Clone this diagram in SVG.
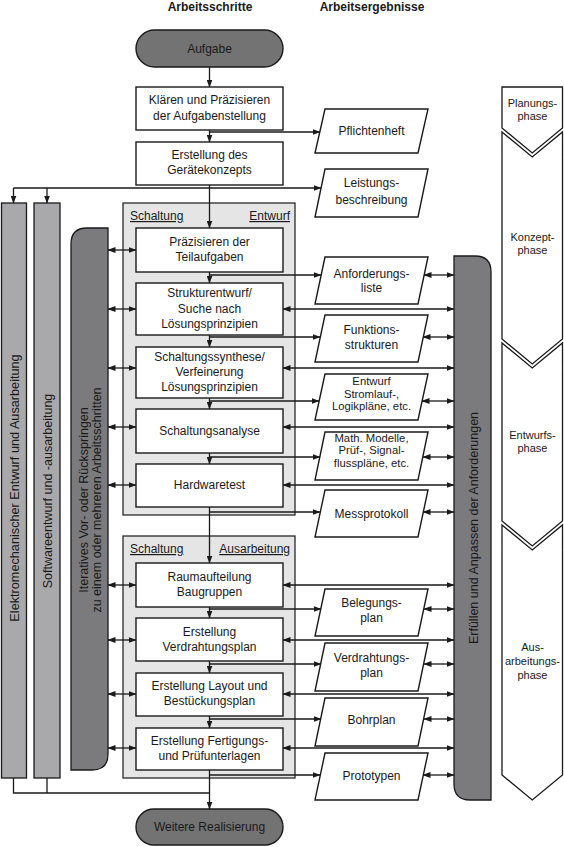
<svg xmlns="http://www.w3.org/2000/svg" width="564" height="847" viewBox="0 0 564 847">
<defs>
<marker id="ah" markerUnits="userSpaceOnUse" markerWidth="8" markerHeight="6" refX="7.5" refY="3" orient="auto-start-reverse"><path d="M0,0 L8,3 L0,6 Z" fill="#1a1a1a"/></marker>
<style>
text{font-family:"Liberation Sans",Arial,sans-serif;font-size:12px;fill:#1a1a1a;text-anchor:middle}
.t{font-weight:bold}
.box{fill:#fff;stroke:#1a1a1a;stroke-width:1.4}
.pill{fill:#737373;stroke:#1a1a1a;stroke-width:1.4}
.grp{fill:#e5e5e5;stroke:#2a2a2a;stroke-width:1.3}
.lbar{fill:#a9a9ab;stroke:#1a1a1a;stroke-width:1.3}
.dbar{fill:#7b7b7d;stroke:#1a1a1a;stroke-width:1.3}
.para{fill:#fff;stroke:#1a1a1a;stroke-width:1.4}
.chev{fill:#fff;stroke:#1a1a1a;stroke-width:1.3}
.ph{font-size:11px}
.sm{font-size:11.3px}
.c{fill:none;stroke:#1a1a1a;stroke-width:1.3}
.a{marker-end:url(#ah)}
.d{marker-start:url(#ah);marker-end:url(#ah)}
.u{text-decoration:underline;text-anchor:start}
</style>
</defs>

<text class="t" x="210" y="11">Arbeitsschritte</text>
<text class="t" x="372" y="11">Arbeitsergebnisse</text>

<!-- containers -->
<g id="grp-entwurf">
<rect class="grp" x="123" y="203" width="172" height="312"/>
<text class="u" x="130" y="220">Schaltung</text>
<text x="290" y="220" style="text-anchor:end;text-decoration:underline">Entwurf</text>
</g>
<g id="grp-ausarbeitung">
<rect class="grp" x="123" y="536" width="172" height="242"/>
<text class="u" x="130" y="553">Schaltung</text>
<text x="290" y="553" style="text-anchor:end;text-decoration:underline">Ausarbeitung</text>
</g>

<!-- side bars -->
<g id="bar-elektro">
<rect class="lbar" x="1.5" y="203" width="25" height="575"/>
<text transform="translate(18.5,488) rotate(-90)" style="font-size:12.7px">Elektromechanischer Entwurf und Ausarbeitung</text>
</g>
<g id="bar-software">
<rect class="lbar" x="34" y="203" width="26" height="575"/>
<text transform="translate(51.5,491) rotate(-90)" style="font-size:12.5px">Softwareentwurf und -ausarbeitung</text>
</g>
<g id="bar-iterativ">
<path class="dbar" d="M71,770 V244 Q71,228 87,228 H108 V754 Q108,770 92,770 Z"/>
<text transform="translate(87.5,500) rotate(-90)" style="font-size:12.5px">Iteratives Vor- oder Rückspringen</text>
<text transform="translate(100.5,500) rotate(-90)" style="font-size:12.5px">zu einem oder mehreren Arbeitsschritten</text>
</g>
<g id="bar-anforderungen">
<path class="dbar" d="M454,256 H475 Q491,256 491,272 V800 H470 Q454,800 454,784 Z"/>
<text transform="translate(477.5,528) rotate(-90)" style="font-size:12.5px">Erfüllen und Anpassen der Anforderungen</text>
</g>

<!-- phases -->
<g id="phase-planung">
<path class="chev" d="M502,87 H562.5 V128 L532.25,153 L502,128 Z"/>
<text class="ph" x="532.5" y="107">Planungs-</text>
<text class="ph" x="532.5" y="120">phase</text>
</g>
<g id="phase-konzept">
<path class="chev" d="M502,132 L532.25,157 L562.5,132 V339 L532.25,364 L502,339 Z"/>
<text class="ph" x="532.5" y="241">Konzept-</text>
<text class="ph" x="532.5" y="254">phase</text>
</g>
<g id="phase-entwurf">
<path class="chev" d="M502,343 L532.25,368 L562.5,343 V521 L532.25,546 L502,521 Z"/>
<text class="ph" x="532.5" y="439">Entwurfs-</text>
<text class="ph" x="532.5" y="452">phase</text>
</g>
<g id="phase-ausarbeitung">
<path class="chev" d="M502,525 L532.25,550 L562.5,525 V775 L532.25,800 L502,775 Z"/>
<text class="ph" x="532.5" y="651">Aus-</text>
<text class="ph" x="532.5" y="665">arbeitungs-</text>
<text class="ph" x="532.5" y="679">phase</text>
</g>

<!-- process nodes -->
<g id="aufgabe"><rect class="pill" x="136" y="30" width="147" height="37" rx="18.5"/><text x="209.5" y="53">Aufgabe</text></g>
<g id="klaeren"><rect class="box" x="136" y="87" width="147" height="43"/><text x="209.5" y="104">Klären und Präzisieren</text><text x="209.5" y="120">der Aufgabenstellung</text></g>
<g id="konzept"><rect class="box" x="136" y="142" width="147" height="43"/><text x="209.5" y="159">Erstellung des</text><text x="209.5" y="174">Gerätekonzepts</text></g>
<g id="praezisieren"><rect class="box" x="136" y="228" width="147" height="44"/><text x="209.5" y="246">Präzisieren der</text><text x="209.5" y="261">Teilaufgaben</text></g>
<g id="struktur"><rect class="box" x="136" y="283" width="147" height="52"/><text x="209.5" y="297">Strukturentwurf/</text><text x="209.5" y="313">Suche nach</text><text x="209.5" y="328">Lösungsprinzipien</text></g>
<g id="synthese"><rect class="box" x="136" y="347" width="147" height="51"/><text x="209.5" y="361">Schaltungssynthese/</text><text x="209.5" y="376">Verfeinerung</text><text x="209.5" y="391">Lösungsprinzipien</text></g>
<g id="analyse"><rect class="box" x="136" y="409" width="147" height="44"/><text x="209.5" y="435">Schaltungsanalyse</text></g>
<g id="hardwaretest"><rect class="box" x="136" y="464" width="147" height="43"/><text x="209.5" y="489">Hardwaretest</text></g>
<g id="raum"><rect class="box" x="136" y="563" width="147" height="44"/><text x="209.5" y="581">Raumaufteilung</text><text x="209.5" y="596">Baugruppen</text></g>
<g id="verdrahtung"><rect class="box" x="136" y="618" width="147" height="43"/><text x="209.5" y="636">Erstellung</text><text x="209.5" y="651">Verdrahtungsplan</text></g>
<g id="layout"><rect class="box" x="136" y="673" width="147" height="43"/><text x="209.5" y="690">Erstellung Layout und</text><text x="209.5" y="705">Bestückungsplan</text></g>
<g id="fertigung"><rect class="box" x="136" y="728" width="147" height="42"/><text x="209.5" y="745">Erstellung Fertigungs-</text><text x="209.5" y="760">und Prüfunterlagen</text></g>
<g id="realisierung"><rect class="pill" x="136" y="809" width="147" height="36" rx="18"/><text x="209.5" y="831">Weitere Realisierung</text></g>

<!-- result nodes -->
<g id="pflichtenheft"><polygon class="para" points="325,109 428,109 418,153 315,153"/><text x="371.5" y="135">Pflichtenheft</text></g>
<g id="leistung"><polygon class="para" points="325,169 428,169 418,217 315,217"/><text x="371.5" y="187">Leistungs-</text><text x="371.5" y="204">beschreibung</text></g>
<g id="anforderungsliste"><polygon class="para" points="325,257 428,257 418,304 315,304"/><text x="371.5" y="278">Anforderungs-</text><text x="371.5" y="292">liste</text></g>
<g id="funktion"><polygon class="para" points="325,315 428,315 418,362 315,362"/><text x="371.5" y="334">Funktions-</text><text x="371.5" y="349">strukturen</text></g>
<g id="stromlauf"><polygon class="para" points="325,374 428,374 418,420 315,420"/><text class="sm" x="371.5" y="385">Entwurf</text><text class="sm" x="371.5" y="397.5">Stromlauf-,</text><text class="sm" x="371.5" y="410">Logikpläne, etc.</text></g>
<g id="modelle"><polygon class="para" points="325,432 428,432 418,480 315,480"/><text class="sm" x="371.5" y="441.5">Math. Modelle,</text><text class="sm" x="371.5" y="454">Prüf-, Signal-</text><text class="sm" x="371.5" y="466.5">flusspläne, etc.</text></g>
<g id="messprotokoll"><polygon class="para" points="325,490 428,490 418,537 315,537"/><text x="371.5" y="518">Messprotokoll</text></g>
<g id="belegung"><polygon class="para" points="325,589 428,589 418,636 315,636"/><text x="371.5" y="607">Belegungs-</text><text x="371.5" y="622">plan</text></g>
<g id="verdrahtungsplan"><polygon class="para" points="325,643 428,643 418,691 315,691"/><text x="371.5" y="662">Verdrahtungs-</text><text x="371.5" y="677">plan</text></g>
<g id="bohrplan"><polygon class="para" points="325,698 428,698 418,746 315,746"/><text x="371.5" y="724">Bohrplan</text></g>
<g id="prototypen"><polygon class="para" points="325,753 428,753 418,800 315,800"/><text x="371.5" y="780">Prototypen</text></g>

<!-- connectors -->
<g id="connectors">
<line class="c a" x1="209.5" y1="67" x2="209.5" y2="87"/>
<line class="c a" x1="209.5" y1="130" x2="209.5" y2="142"/>
<line class="c a" x1="209.5" y1="185" x2="209.5" y2="228"/>
<line class="c a" x1="209.5" y1="272" x2="209.5" y2="283"/>
<line class="c a" x1="209.5" y1="335" x2="209.5" y2="347"/>
<line class="c a" x1="209.5" y1="398" x2="209.5" y2="409"/>
<line class="c a" x1="209.5" y1="453" x2="209.5" y2="464"/>
<line class="c a" x1="209.5" y1="507" x2="209.5" y2="563"/>
<line class="c a" x1="209.5" y1="607" x2="209.5" y2="618"/>
<line class="c a" x1="209.5" y1="661" x2="209.5" y2="673"/>
<line class="c a" x1="209.5" y1="716" x2="209.5" y2="728"/>
<line class="c a" x1="209.5" y1="770" x2="209.5" y2="809"/>
<line class="c a" x1="209.5" y1="132" x2="320" y2="132"/>
<line class="c a" x1="13.5" y1="188" x2="321" y2="188"/>
<line class="c a" x1="13.5" y1="188" x2="13.5" y2="203"/>
<line class="c a" x1="47" y1="188" x2="47" y2="203"/>
<line class="c a" x1="209.5" y1="275" x2="321" y2="275"/>
<line class="c a" x1="209.5" y1="337" x2="320" y2="337"/>
<line class="c a" x1="209.5" y1="401" x2="319" y2="401"/>
<line class="c a" x1="209.5" y1="457" x2="320" y2="457"/>
<line class="c a" x1="209.5" y1="512" x2="320" y2="512"/>
<line class="c a" x1="209.5" y1="609" x2="321" y2="609"/>
<line class="c a" x1="209.5" y1="664" x2="321" y2="664"/>
<line class="c a" x1="209.5" y1="719" x2="321" y2="719"/>
<line class="c a" x1="209.5" y1="775" x2="320" y2="775"/>
<polyline class="c" points="13.5,778 13.5,793 209.5,793"/>
<line class="c" x1="47" y1="778" x2="47" y2="793"/>
<line class="c d" x1="108" y1="250" x2="136" y2="250"/>
<line class="c d" x1="108" y1="309" x2="136" y2="309"/>
<line class="c d" x1="108" y1="368" x2="136" y2="368"/>
<line class="c d" x1="108" y1="427" x2="136" y2="427"/>
<line class="c d" x1="108" y1="485" x2="136" y2="485"/>
<line class="c d" x1="108" y1="585" x2="136" y2="585"/>
<line class="c d" x1="108" y1="640" x2="136" y2="640"/>
<line class="c d" x1="108" y1="694" x2="136" y2="694"/>
<line class="c d" x1="108" y1="748" x2="136" y2="748"/>
<line class="c d" x1="283" y1="309" x2="454" y2="309"/>
<line class="c d" x1="283" y1="368" x2="454" y2="368"/>
<line class="c d" x1="283" y1="427" x2="454" y2="427"/>
<line class="c d" x1="283" y1="485" x2="454" y2="485"/>
<line class="c d" x1="283" y1="585" x2="454" y2="585"/>
<line class="c d" x1="283" y1="640" x2="454" y2="640"/>
<line class="c d" x1="283" y1="694" x2="454" y2="694"/>
<line class="c d" x1="283" y1="748" x2="454" y2="748"/>
<line class="c d" x1="424" y1="275" x2="454" y2="275"/>
<line class="c d" x1="423" y1="337" x2="454" y2="337"/>
<line class="c d" x1="422" y1="401" x2="454" y2="401"/>
<line class="c d" x1="423" y1="457" x2="454" y2="457"/>
<line class="c d" x1="423" y1="512" x2="454" y2="512"/>
<line class="c d" x1="424" y1="609" x2="454" y2="609"/>
<line class="c d" x1="424" y1="664" x2="454" y2="664"/>
<line class="c d" x1="424" y1="719" x2="454" y2="719"/>
<line class="c d" x1="423" y1="775" x2="454" y2="775"/>
</g>
</svg>
